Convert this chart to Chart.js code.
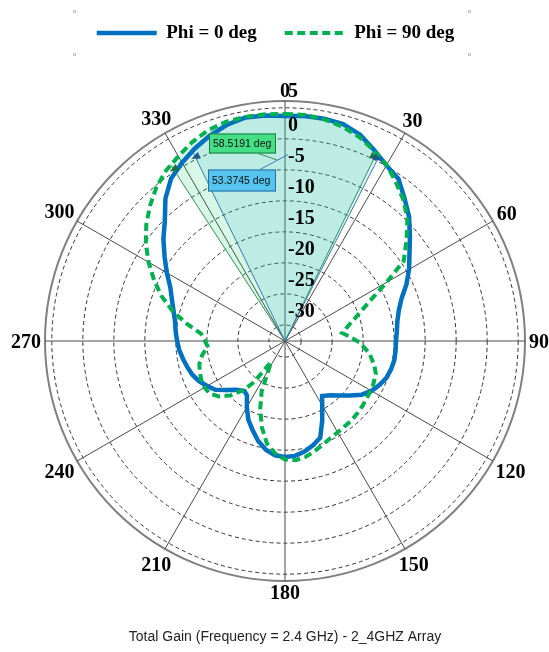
<!DOCTYPE html>
<html><head><meta charset="utf-8">
<script src="https://cdn.jsdelivr.net/npm/chart.js@4.4.1/dist/chart.umd.min.js"></script>
<style>html,body{margin:0;padding:0;background:#fff;}canvas{display:block;}</style>
</head><body>
<canvas id="c" width="549" height="652"></canvas>
<script>
// ---------------- data ----------------
const R_MIN = -37.6, R_MAX = 1.1;
const ringValues = [-35, -30, -25, -20, -15, -10, -5, 0];
const gainTickValues = [-30, -25, -20, -15, -10, -5, 0];
const gainTickLabels = ['-30', '-25', '-20', '-15', '-10', '-5', '0'];
const outerTickLabel = '5';
const angleTickValues = [0, 30, 60, 90, 120, 150, 180, 210, 240, 270, 300, 330];
const angleTickLabels = ['0', '30', '60', '90', '120', '150', '180', '210', '240', '270', '300', '330'];

const phi0Angles = [0,5,10,15,20,25,30,35,40,45,
  50,55,60,65,70,75,80,85,90,95,
  100,105,110,115,120,125,130,135,140,146,
  150,155,160,165,170,175,180,185,190,195,
  200,205,210,215,219,225,230,235,240,245,
  250,255,260,265,270,275,280,285,290,295,
  300,305,310,315,320,325,330,335,340,345,
  350,355];
const phi0Gain = [-1.3,-1.2,-1.2,-1.4,-2.2,-3.6,-4.9,-5.7,-7.6,-9.3,
  -11.3,-13.1,-14.5,-16.0,-17.6,-18.6,-19.2,-19.5,-19.7,-19.7,
  -19.7,-19.9,-20.2,-20.8,-21.5,-22.5,-23.9,-25.2,-26.2,-26.9,
  -25.6,-23.4,-21.0,-20.2,-19.5,-19.0,-18.9,-19.1,-19.8,-20.9,
  -22.3,-23.6,-25.3,-26.9,-27.2,-26.5,-25.3,-23.9,-23.1,-22.3,
  -21.7,-21.3,-20.9,-20.5,-20.2,-19.9,-19.6,-19.0,-18.2,-17.2,
  -15.6,-13.9,-12.0,-10.2,-7.6,-5.6,-4.4,-3.3,-2.3,-1.5,
  -1.0,-1.1];

const phi90Angles = [0,5,10,15,20,25,30,35,40,45,
  50,56,60,65,70,75,80,82,86,91,
  98,105,110,117,125,130,135,140,145,150,
  155,160,165,170,175,180,185,190,195,200,
  205,208,211,214,217,220,225,230,235,240,
  245,250,255,260,266,270,275,280,285,290,
  295,300,305,310,315,320,325,330,335,340,
  345,350,355];
const phi90Gain = [-1.0,-1.0,-1.3,-1.8,-2.6,-3.7,-4.8,-6.4,-7.9,-9.7,
  -12.0,-14.5,-18.7,-22.6,-25.0,-26.7,-27.9,-28.3,-27.2,-25.6,
  -23.9,-22.7,-22.0,-21.7,-21.5,-21.3,-21.1,-20.9,-20.8,-20.6,
  -20.3,-19.8,-19.2,-18.6,-18.3,-18.5,-19.4,-20.8,-23.2,-25.9,
  -28.7,-31.5,-32.8,-33.5,-29.3,-27.3,-25.2,-23.7,-22.8,-22.6,
  -22.7,-23.0,-23.3,-24.0,-25.1,-24.7,-24.0,-21.5,-18.8,-16.4,
  -14.3,-12.2,-10.2,-8.4,-6.8,-5.3,-4.1,-3.2,-2.2,-1.4,
  -1.0,-0.9,-0.9];

// beamwidth markers (edge angles, gain at edges, marker level, label)
const bw0Edges = [334, 27];
const bw0EdgeGain = [-3.5, -4.1];
const bw0Level = -4.6;
const bw0Text = '53.3745 deg';
const bw90Edges = [327, 26];
const bw90EdgeGain = [-3.7, -3.9];
const bw90Level = -4.6;
const bw90Text = '58.5191 deg';

// ---------------- helpers ----------------
const N = 360;
const angleLabels = Array.from({length: N}, (_, i) => i);
function toSeries(angles, gains) {
  const d = new Array(N).fill(null);
  angles.forEach((a, i) => { if (i < gains.length) d[a % N] = gains[i]; });
  return d;
}
function sectorData(angles, gains, edges, edgeGain) {
  const d = new Array(N).fill(null);
  const a0 = edges[0], a1 = edges[1];
  const inside = a => (a0 > a1) ? (a > a0 || a < a1) : (a > a0 && a < a1);
  angles.forEach((a, i) => { if (inside(a)) d[a] = gains[i]; });
  d[a0] = edgeGain[0]; d[a1] = edgeGain[1];
  d[(a0 + N - 1) % N] = R_MIN; d[(a1 + 1) % N] = R_MIN;
  return d;
}

const SERIF = '"Liberation Serif", "Times New Roman", serif';
const BLUE = '#0070C0', GREEN = '#00B050';

const decor = {
  id: 'decor',
  afterDatasetsDraw(chart) {
    const s = chart.scales.r, ctx = chart.ctx;
    const cx = s.xCenter, cy = s.yCenter, R = s.drawingArea;
    ctx.save();
    // sector edge lines
    const edge = (idx, val, col) => {
      const p = s.getPointPositionForValue(idx, val);
      ctx.strokeStyle = col; ctx.lineWidth = 1;
      ctx.beginPath(); ctx.moveTo(cx, cy); ctx.lineTo(p.x, p.y); ctx.stroke();
    };
    edge(bw90Edges[0], bw90EdgeGain[0], '#2f8f55'); edge(bw90Edges[1], bw90EdgeGain[1], '#2f8f55');
    edge(bw0Edges[0], bw0EdgeGain[0], '#3b78b0'); edge(bw0Edges[1], bw0EdgeGain[1], '#3b78b0');
    // arrows
    const arrow = (idx, val, dir, col) => {
      const p = s.getPointPositionForValue(idx, val);
      const th = s.getIndexAngle(idx);
      const tx = Math.cos(th) * dir, ty = Math.sin(th) * dir;
      const nx = -ty, ny = tx, L = 9, W = 3.5;
      ctx.fillStyle = col;
      ctx.beginPath();
      ctx.moveTo(p.x + tx * L / 2, p.y + ty * L / 2);
      ctx.lineTo(p.x - tx * L / 2 + nx * W, p.y - ty * L / 2 + ny * W);
      ctx.lineTo(p.x - tx * L / 2 - nx * W, p.y - ty * L / 2 - ny * W);
      ctx.closePath(); ctx.fill();
    };
    arrow(bw90Edges[0], bw90Level, -1, '#1e6e3c'); arrow(bw90Edges[1], bw90Level, 1, '#1e6e3c');
    arrow(bw0Edges[0], bw0Level, -1, '#1d5a8c'); arrow(bw0Edges[1], bw0Level, 1, '#1d5a8c');

    // leader lines
    ctx.lineWidth = 1;
    ctx.strokeStyle = '#2f8f55';
    ctx.beginPath(); ctx.moveTo(cx - 28, cy - 188); ctx.lineTo(cx - 8, cy - 181); ctx.stroke();
    ctx.strokeStyle = '#3b78b0';
    ctx.beginPath(); ctx.moveTo(cx - 25, cy - 171.5); ctx.lineTo(cx + 3, cy - 186.5); ctx.stroke();
    // label boxes
    const box = (x, y, w, h, fill, stroke, text) => {
      ctx.fillStyle = fill; ctx.fillRect(x, y, w, h);
      ctx.strokeStyle = stroke; ctx.lineWidth = 1; ctx.strokeRect(x + 0.5, y + 0.5, w - 1, h - 1);
      ctx.fillStyle = '#111'; ctx.font = '10.5px "Liberation Sans", Arial, sans-serif';
      ctx.textAlign = 'left'; ctx.textBaseline = 'middle';
      ctx.fillText(text, x + 4, y + h / 2 + 0.5);
    };
    box(cx - 76, cy - 207.5, 67, 20, '#45e085', '#1f7a44', bw90Text);
    box(cx - 77, cy - 171.5, 68, 22, '#55c4ef', '#2a6f9e', bw0Text);

    // radial tick labels
    ctx.fillStyle = '#000';
    ctx.font = 'bold 20px ' + SERIF;
    ctx.textAlign = 'left'; ctx.textBaseline = 'alphabetic';
    gainTickValues.forEach((v, i) => {
      const r = s.getDistanceFromCenterForValue(v);
      ctx.fillText(gainTickLabels[i], cx + 3, cy - r + 16.5 + 6.8);
    });
    ctx.fillText(outerTickLabel, cx + 3, cy - s.getDistanceFromCenterForValue(R_MAX) - 11 + 6.8);

    // angle labels
    ctx.textAlign = 'center';
    angleTickValues.forEach((a, i) => {
      const t = angleTickLabels[i];
      const w = ctx.measureText(t).width, h = 14;
      const th = a * Math.PI / 180;
      const ext = (w / 2) * Math.abs(Math.sin(th)) + (h / 2) * Math.abs(Math.cos(th));
      const p = s.getPointPosition(a, R + 4 + ext);
      ctx.fillText(t, p.x, p.y + 6.8);
    });

    // small handle marks around legend
    ctx.strokeStyle = '#c4c4c4'; ctx.lineWidth = 1;
    [[73, 10], [468, 10], [73, 53], [468, 53]].forEach(([x, y]) => ctx.strokeRect(x + 0.5, y + 0.5, 2, 2));
    ctx.restore();
  }
};

new Chart(document.getElementById('c'), {
  type: 'radar',
  data: {
    labels: angleLabels,
    datasets: [
      { label: 'Phi = 0 deg', data: toSeries(phi0Angles, phi0Gain), borderColor: BLUE, backgroundColor: BLUE,
        borderWidth: 4.5, fill: false, spanGaps: true, tension: 0, pointRadius: 0, order: 1 },
      { label: 'Phi = 90 deg', data: toSeries(phi90Angles, phi90Gain), borderColor: GREEN, backgroundColor: GREEN,
        borderWidth: 4, borderDash: [8, 4.5], fill: false, spanGaps: true, tension: 0, pointRadius: 0, order: 0 },
      { label: 'bw90', data: sectorData(phi90Angles, phi90Gain, bw90Edges, bw90EdgeGain),
        backgroundColor: 'rgba(0,200,90,0.15)', borderWidth: 0, fill: 'start', spanGaps: true, tension: 0, pointRadius: 0, order: 3 },
      { label: 'bw0', data: sectorData(phi0Angles, phi0Gain, bw0Edges, bw0EdgeGain),
        backgroundColor: 'rgba(60,190,220,0.18)', borderWidth: 0, fill: 'start', spanGaps: true, tension: 0, pointRadius: 0, order: 2 }
    ]
  },
  options: {
    responsive: false,
    animation: false,
    devicePixelRatio: 1,
    events: [],
    layout: { padding: { left: 26, right: 24, top: -4.5, bottom: 6.6 } },
    elements: { point: { radius: 0, hitRadius: 0 } },
    scales: {
      r: {
        min: R_MIN, max: R_MAX,
        startAngle: 0,
        afterBuildTicks: (scale) => { scale.ticks = [R_MIN, ...ringValues, R_MAX].map(v => ({ value: v })); },
        ticks: { display: false },
        pointLabels: { display: false },
        grid: {
          circular: true,
          color: (c) => (c.index === 0 ? 'rgba(0,0,0,0)' : (c.tick && c.tick.value === R_MAX ? '#808080' : '#333333')),
          lineWidth: (c) => (c.tick && c.tick.value === R_MAX ? 2 : 1)
        },
        border: { dash: (c) => (c.tick && c.tick.value === R_MAX ? [] : [4, 3]) },
        angleLines: {
          display: true,
          color: (c) => (c.index % 30 === 0 ? '#4a4a4a' : 'rgba(0,0,0,0)'),
          lineWidth: 1
        }
      }
    },
    plugins: {
      legend: {
        display: true, position: 'top', align: 'center',
        labels: {
          usePointStyle: true, pointStyle: 'line', pointStyleWidth: 60, padding: 28,
          color: '#000',
          font: { family: SERIF, size: 19, weight: 'bold' },
          filter: (item) => item.datasetIndex < 2,
          sort: (a, b) => a.datasetIndex - b.datasetIndex,
          generateLabels: (chart) => {
            const items = Chart.defaults.plugins.legend.labels.generateLabels(chart);
            items.forEach(it => {
              const ds = chart.data.datasets[it.datasetIndex];
              it.lineDash = ds.borderDash || [];
              it.lineWidth = ds.borderWidth;
              it.strokeStyle = ds.borderColor;
              it.fillStyle = ds.borderColor;
              it.pointStyle = 'line';
            });
            return items;
          }
        }
      },
      title: {
        display: true, position: 'bottom', fullSize: false,
        text: 'Total Gain (Frequency = 2.4 GHz) - 2_4GHZ Array',
        color: '#222',
        font: { family: '"Liberation Sans", Arial, sans-serif', size: 14, weight: 'normal', lineHeight: 1.2 },
        padding: { top: -1.8, bottom: 0 }
      },
      subtitle: {
        display: true, position: 'left', fullSize: false, text: '',
        font: { size: 10, lineHeight: 1 }, padding: { top: 0, bottom: 9 }
      },
      tooltip: { enabled: false }
    }
  },
  plugins: [decor]
});
</script>
</body></html>
